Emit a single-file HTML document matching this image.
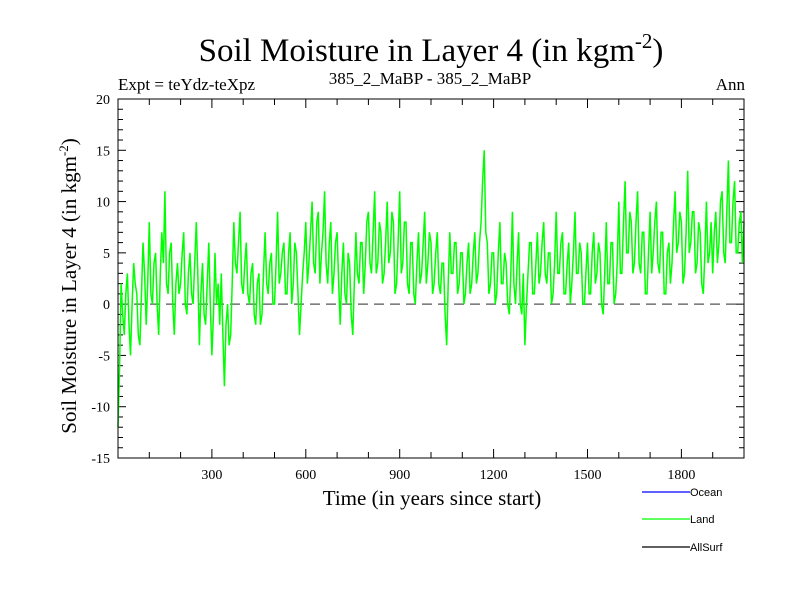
<!DOCTYPE html>
<html><head><meta charset="utf-8"><style>
body{margin:0;background:#fff;}
svg{display:block;font-family:"Liberation Serif",serif;}
</style></head><body>
<svg id="chart" width="800" height="600" xmlns="http://www.w3.org/2000/svg">
<rect width="800" height="600" fill="#fff"/>
<text x="431" y="61" font-size="33" text-anchor="middle">Soil Moisture in Layer 4 (in kgm<tspan dy="-13" font-size="21">-2</tspan><tspan dy="13">)</tspan></text>
<text x="118" y="90" font-size="17">Expt = teYdz-teXpz</text>
<text x="430" y="84" font-size="17" text-anchor="middle">385_2_MaBP - 385_2_MaBP</text>
<text x="745" y="90" font-size="17" text-anchor="end">Ann</text>
<g id="axes"></g>
<g id="series"></g>
<rect x="118" y="99" width="626" height="359" fill="none" stroke="#000" stroke-width="1"/>
<text x="432" y="505" font-size="21" text-anchor="middle">Time (in years since start)</text>
<text transform="translate(76,286) rotate(-90)" font-size="21" text-anchor="middle">Soil Moisture in Layer 4 (in kgm<tspan dy="-8" font-size="13">-2</tspan><tspan dy="8">)</tspan></text>
<g font-family="Liberation Sans, sans-serif" font-size="11">
<line x1="642" y1="492" x2="690" y2="492" stroke="#0000ff" stroke-width="1.2"/>
<text x="690" y="496">Ocean</text>
<line x1="642" y1="519" x2="690" y2="519" stroke="#00ff00" stroke-width="1.2"/>
<text x="690" y="523">Land</text>
<line x1="642" y1="547" x2="690" y2="547" stroke="#000" stroke-width="1.2"/>
<text x="690" y="551">AllSurf</text>
</g>
</svg>
<script>
const xTicks=[300,600,900,1200,1500,1800];
const yTicks=[-15,-10,-5,0,5,10,15,20];
const yearStep=5;
const landValues=[
-12,-6,2,-1,-3,1,3,-2,-5,0,4,2,1,-3,-4,1,6,3,-2,2,
8,1,0,4,5,0,-3,3,7,4,11,2,1,5,6,0,-3,2,4,1,
2,5,7,0,-1,3,5,1,0,4,8,3,-4,1,4,-1,-2,2,6,0,
-5,-1,5,0,2,-2,3,-3,-8,-2,0,-4,-3,2,8,4,3,6,9,2,
1,4,6,1,0,3,4,-1,-2,2,3,-2,-1,3,7,2,1,4,5,0,
0,4,9,2,3,5,6,1,1,5,7,0,2,6,5,1,-3,0,3,5,
8,2,4,7,10,4,3,8,9,2,5,7,11,4,2,6,8,1,3,6,
7,2,-2,3,6,1,0,5,4,-1,-3,2,7,3,2,6,6,1,4,8,
9,4,3,7,11,3,4,8,7,2,3,6,10,4,5,9,8,1,2,6,
11,3,4,8,8,2,1,6,6,1,0,4,7,2,3,6,9,2,4,7,
6,1,2,5,7,2,1,4,4,-1,-4,2,7,3,3,6,6,1,2,5,
5,0,1,4,6,1,2,5,7,2,3,6,8,12,15,7,6,1,2,5,
5,0,1,5,8,2,2,5,4,0,-1,3,9,2,0,4,7,0,-1,3,
-4,0,3,6,6,1,1,4,7,2,3,6,8,3,2,5,5,0,1,4,
9,3,3,6,7,1,1,4,6,0,2,5,9,3,3,6,5,0,0,3,
6,1,1,5,7,2,3,6,5,0,-1,3,8,2,2,6,6,0,1,4,
10,3,3,8,12,5,5,9,8,3,4,8,11,4,3,7,7,1,1,5,
9,3,5,8,10,4,3,7,7,1,1,5,6,2,4,8,11,5,6,9,
8,2,3,7,13,5,6,9,9,3,4,8,7,2,1,5,10,4,5,8,
3,7,9,4,6,10,11,5,4,9,14,6,6,10,12,5,5,8,9,4,8];
const X0=118,X1=744,Y0=458,Y1=99,XMIN=0,XMAX=2000,YMIN=-15,YMAX=20;
const sx=v=>X0+(v-XMIN)/(XMAX-XMIN)*(X1-X0);
const sy=v=>Y0-(v-YMIN)/(YMAX-YMIN)*(Y0-Y1);
const NS="http://www.w3.org/2000/svg";
const axes=document.getElementById('axes');
function mk(t,a,p){const e=document.createElementNS(NS,t);for(const k in a)e.setAttribute(k,a[k]);p.appendChild(e);return e;}
for(let v=100;v<XMAX;v+=100){const major=v%300===0;const l=major?9:6;
 const t1=mk('line',{x1:sx(v),x2:sx(v),y1:Y0,y2:Y0-l,stroke:'#000'},axes);
 
 
 const t2=mk('line',{x1:sx(v),x2:sx(v),y1:Y1,y2:Y1+l,stroke:'#000'},axes);
 
 }
xTicks.forEach(v=>{const t=mk('text',{x:sx(v),y:Y0+21,'font-size':14,'text-anchor':'middle'},axes);t.textContent=v;
 
 });
for(let v=YMIN+1;v<YMAX;v++){const major=v%5===0;const l=major?8:5;
 const t1=mk('line',{x1:X0,x2:X0+l,y1:sy(v),y2:sy(v),stroke:'#000'},axes);
 
 
 const t2=mk('line',{x1:X1,x2:X1-l,y1:sy(v),y2:sy(v),stroke:'#000'},axes);
 
 }
yTicks.forEach(v=>{const t=mk('text',{x:X0-8,y:sy(v)+5,'font-size':14,'text-anchor':'end'},axes);t.textContent=v;
 
 });
const series=document.getElementById('series');
const zl=mk('line',{x1:X0,x2:X1,y1:sy(0),y2:sy(0),stroke:'#555','stroke-dasharray':'10,6','stroke-width':1.2},series);


const pts=landValues.map((v,i)=>sx(Math.min(i*yearStep,XMAX)).toFixed(1)+','+sy(v).toFixed(1)).join(' ');
const pl=mk('polyline',{points:pts,fill:'none',stroke:'#00ff00','stroke-width':1.5},series);


</script>
</body></html>
